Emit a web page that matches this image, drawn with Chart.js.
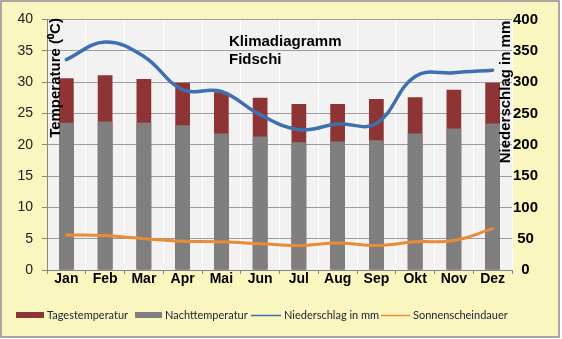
<!DOCTYPE html>
<html>
<head>
<meta charset="utf-8">
<script src="https://cdn.jsdelivr.net/npm/chart.js@4/dist/chart.umd.min.js"></script>
<style>
  html, body { margin: 0; padding: 0; background: #ffffff; }
  #wrap { width: 562px; height: 339px; }
</style>
</head>
<body>
<div id="wrap"><canvas id="c" width="562" height="339"></canvas></div>
<script>
// Klimadaten Fidschi
const months = ['Jan', 'Feb', 'Mar', 'Apr', 'Mai', 'Jun', 'Jul', 'Aug', 'Sep', 'Okt', 'Nov', 'Dez'];
const dayTemp = [30.6, 31.1, 30.5, 29.9, 28.4, 27.5, 26.5, 26.5, 27.3, 27.6, 28.8, 29.9];
const nightTemp = [23.5, 23.7, 23.5, 23.1, 21.8, 21.3, 20.4, 20.5, 20.7, 21.8, 22.6, 23.4];
const precipitation = [336, 364, 341, 288, 285, 248, 224, 233, 234, 309, 315, 319];
const sunshine = [5.6, 5.5, 5.0, 4.6, 4.5, 4.2, 3.9, 4.3, 3.9, 4.5, 4.7, 6.6];
const tempTicks = { min: 0, max: 40, step: 5 };
const rainTicks = { min: 0, max: 400, step: 50 };
const seriesNames = ['Tagestemperatur', 'Nachttemperatur', 'Niederschlag in mm', 'Sonnenscheindauer'];

const COLORS = {
  frame: '#F9F7BF',
  plot: '#F2F2F2',
  grid: '#9C9C9C',
  axis: '#868686',
  day: '#8F3434',
  night: '#7F7F7F',
  rain: '#3E6FB0',
  sun: '#E98C35'
};
const FONT = '"Liberation Sans", Arial, sans-serif';

// Background, frame and plot area fill
const framePlugin = {
  id: 'frame',
  beforeDraw(chart) {
    const { ctx, chartArea: a } = chart;
    ctx.save();
    ctx.fillStyle = '#ffffff';
    ctx.fillRect(0, 0, chart.width, chart.height);
    ctx.fillStyle = COLORS.frame;
    ctx.fillRect(1, 1, 558, 336);
    ctx.strokeStyle = '#8C8C8C';
    ctx.lineWidth = 1.5;
    ctx.strokeRect(1, 1, 558, 336);
    ctx.fillStyle = COLORS.plot;
    ctx.fillRect(a.left, a.top, a.right - a.left, a.bottom - a.top);
    ctx.restore();
  }
};

// Title, axis titles and legend drawn on top
const textPlugin = {
  id: 'texts',
  afterDraw(chart) {
    const { ctx } = chart;
    ctx.save();
    ctx.fillStyle = '#000000';
    ctx.font = 'bold 15px ' + FONT;
    ctx.textAlign = 'left';
    ctx.textBaseline = 'middle';
    ctx.fillText('Klimadiagramm', 229, 42);
    ctx.fillText('Fidschi', 229, 60);

    ctx.textAlign = 'center';
    ctx.save();
    ctx.translate(56, 78);
    ctx.rotate(-Math.PI / 2);
    ctx.fillText('Temperature (\u2070C)', 0, 0);
    ctx.restore();

    ctx.save();
    ctx.translate(506, 92);
    ctx.rotate(-Math.PI / 2);
    ctx.fillText('Niederschlag in mm', 0, 0);
    ctx.restore();

    // legend
    const items = [
      { x: 16, w: 28, kind: 'rect', color: COLORS.day },
      { x: 135, w: 27, kind: 'rect', color: COLORS.night },
      { x: 251, w: 30, kind: 'line', color: COLORS.rain },
      { x: 381, w: 29, kind: 'line', color: COLORS.sun }
    ];
    const ly = 315;
    ctx.font = '11px Lato, "Open Sans", sans-serif';
    ctx.textAlign = 'left';
    ctx.textBaseline = 'middle';
    items.forEach((it, i) => {
      if (it.kind === 'rect') {
        ctx.fillStyle = it.color;
        ctx.fillRect(it.x, ly - 3, it.w, 6);
      } else {
        ctx.strokeStyle = it.color;
        ctx.lineWidth = 1.5;
        ctx.beginPath();
        ctx.moveTo(it.x, ly + 0.5);
        ctx.lineTo(it.x + it.w, ly + 0.5);
        ctx.stroke();
      }
      ctx.fillStyle = '#23233A';
      ctx.fillText(chart.data.datasets[i].label, it.x + it.w + 3, ly);
    });
    ctx.restore();
  }
};

new Chart(document.getElementById('c'), {
  data: {
    labels: months,
    datasets: [
      { type: 'bar', label: seriesNames[0], data: dayTemp, backgroundColor: COLORS.day,
        yAxisID: 'y', grouped: false, barPercentage: 0.38, categoryPercentage: 1, order: 3 },
      { type: 'bar', label: seriesNames[1], data: nightTemp, backgroundColor: COLORS.night,
        yAxisID: 'y', grouped: false, barPercentage: 0.38, categoryPercentage: 1, order: 2 },
      { type: 'line', label: seriesNames[2], data: precipitation, borderColor: COLORS.rain,
        borderWidth: 3.5, tension: 0.4, pointRadius: 0, yAxisID: 'y2', order: 1, borderCapStyle: 'round' },
      { type: 'line', label: seriesNames[3], data: sunshine, borderColor: COLORS.sun,
        borderWidth: 3, tension: 0.4, pointRadius: 0, yAxisID: 'y', order: 0, borderCapStyle: 'round' }
    ]
  },
  options: {
    responsive: false,
    animation: false,
    layout: { padding: { top: 19.5, left: 0, right: 0, bottom: 0 } },
    plugins: { legend: { display: false }, tooltip: { enabled: false }, title: { display: false } },
    scales: {
      x: {
        offset: true,
        grid: { color: '#FFFFFF', lineWidth: 1, offset: true, drawTicks: true, tickLength: 4, tickColor: COLORS.axis },
        border: { color: COLORS.axis, width: 1 },
        ticks: { color: '#000000', font: { family: FONT, size: 14, weight: 'bold' }, padding: -3, maxRotation: 0, autoSkip: false },
        afterFit(scale) { scale.height = 69; }
      },
      y: {
        position: 'left',
        min: tempTicks.min, max: tempTicks.max,
        grid: { color: COLORS.grid, lineWidth: 1, drawTicks: true, tickLength: 5, tickColor: COLORS.axis },
        border: { color: COLORS.axis, width: 1 },
        ticks: { stepSize: tempTicks.step, color: '#222222', font: { family: FONT, size: 14 }, padding: 9 },
        afterFit(scale) { scale.width = 47; }
      },
      y2: {
        position: 'right',
        min: rainTicks.min, max: rainTicks.max,
        grid: { drawOnChartArea: false, drawTicks: false },
        border: { display: false },
        ticks: { stepSize: rainTicks.step, color: '#000000', font: { family: FONT, size: 15, weight: 'bold' }, padding: 1, crossAlign: 'center' },
        afterFit(scale) { scale.width = 50; }
      }
    }
  },
  plugins: [framePlugin, textPlugin]
});
</script>
</body>
</html>
